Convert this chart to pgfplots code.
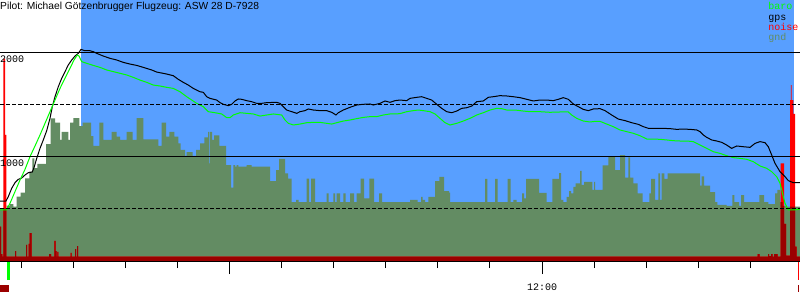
\documentclass[border=0pt]{standalone}
\usepackage{fontspec}
\setmainfont{Liberation Sans}
\newfontfamily\monofont{Liberation Mono}
\usepackage{pgfplots}
\pgfplotsset{compat=1.18}
\definecolor{sky}{RGB}{88,159,255}
\definecolor{gndc}{RGB}{99,140,99}
\definecolor{noisedark}{RGB}{155,0,0}
\definecolor{baroc}{RGB}{0,255,0}
\definecolor{noisec}{RGB}{255,0,0}
\newcommand\lblfont{\monofont\fontsize{10}{10.25}\selectfont}
\begin{document}
\begin{tikzpicture}[x=1pt,y=1pt]
\begin{axis}[
  at={(0,0)}, anchor=south west,
  scale only axis, width=800pt, height=261pt,
  xmin=0, xmax=800, ymin=-7, ymax=2503,
  clip=false,
  axis on top,
  axis x line*=bottom, axis y line*=left,
  y axis line style={draw=none},
  x axis line style={black, line width=1pt},
  tick align=outside,
  major tick length=7pt,
  minor tick length=0pt,
  xtick={21.3,73.4,125.4,177.5,281.7,333.7,385.8,437.9,489.9,594.1,646.1,698.2,750.3},
  xticklabels={},
  extra x ticks={229.6,542.0},
  extra x tick labels={,12:00},
  extra x tick style={major tick length=13pt, xticklabel style={anchor=base, inner sep=0pt, yshift=-16pt}},
  xtick style={black, line width=1pt},
  xticklabel style={font=\lblfont},
  ytick={1000,2000},
  yticklabels={1000,2000},
  minor ytick={500,1500},
  ymajorgrids, yminorgrids,
  major grid style={black, line width=1pt},
  minor grid style={black, line width=1pt, dash pattern=on 4pt off 2pt},
  ytick style={draw=none},
  yticklabel style={font=\lblfont, anchor=base west, inner sep=0pt, xshift=7pt, yshift=-10.3pt},
  legend style={draw=none, fill=none, at={(0.96,0.98927)}, anchor=north west,
    inner sep=0pt, outer sep=0pt, font=\lblfont, row sep=0pt, column sep=0pt,
    nodes={inner sep=0pt, text height=7.2pt, text depth=3.05pt}},
  legend cell align=left,
  legend image code/.code={\path (0pt,0pt) rectangle (0pt,0pt);},
]
% sky (gliding phase)
\addplot[forget plot, fill=sky, draw=none] coordinates {(81,-7) (81,2503) (794,2503) (794,-7)};
% ground
\addplot[forget plot, const plot mark left, fill=gndc, draw=none] coordinates {
(0,-7) (0,500) (6.7,525) (10,541) (13.3,515) (16.7,611) (20.7,650) (25,788) (29.3,852) (32.3,981)
(34.3,885) (37.3,926) (46,1118) (50.7,1365) (55,1323) (60,1157) (61.7,1234) (68.3,1157) (70,1323)
(73.3,1368) (79.3,1291) (82.7,1323) (91,1195) (93.3,1099) (99.3,1323) (103.3,1157) (111.7,1234)
(116.7,1189) (120,1157) (126.7,1234) (132.7,1157) (136.7,1368) (143.3,1163) (158.3,1099) (161.7,1323)
(166,1189) (169.3,1234) (174.3,1189) (178.3,1125) (180.7,1061) (185,1003) (186.7,1041) (192.7,1003)
(196,1061) (200,1125) (204.3,1183) (208,1234) (209.3,933) (210,1234) (212,1157) (214,1202) (219.3,1099)
(226,916) (231,698) (233.3,916) (235,900) (236.7,916) (238.3,900) (246.7,916) (251.7,900) (270,762)
(276,868) (279,974) (285,836) (288,785) (291.7,560) (296,580) (298.7,560) (306.7,785) (309,560)
(311,785) (315,560) (326.7,644) (328.7,560) (333.3,644) (335,560) (336.7,644) (340,560) (343.3,644)
(345.7,560) (350,644) (354,560) (356.7,644) (360.7,785) (364,596) (369.3,785) (374,560) (379,644)
(382,560) (410,580) (417.7,560) (421,609) (422.7,580) (425,560) (428.3,609) (435,762) (439.3,801)
(444,666) (449,650) (450,560) (485,782) (487.3,560) (495,782) (497.7,560) (507.7,782) (510.7,560)
(513.3,580) (516.7,560) (522,644) (524,596) (526,782) (539,647) (546.7,560) (552.3,782) (559,839)
(561,580) (563.3,560) (566.7,609) (569,666) (571,644) (573.3,705) (575.7,740) (580,859) (581.7,724)
(584,753) (592.3,676) (594,753) (595,676) (602.7,913) (608.3,996) (615,868) (620,1012) (625,794)
(628.3,990) (630,794) (633.3,740) (637.7,644) (642.7,560) (649.3,644) (651,782) (655,580) (658.3,836)
(660,580) (661.7,836) (664.3,782) (667.7,836) (700,717) (701.7,808) (704,717) (710,655) (715,560)
(717.3,532) (726.7,522) (732.3,627) (734.3,560) (739,522) (741,627) (744,560) (759.3,627) (764,560)
(768.3,541) (775,644) (777.3,676) (780,560) (782.7,522) (786.7,515) (800,515) (800,-7)};
% noise (full)
\addplot[forget plot, const plot mark left, fill=noisec, draw=none] coordinates {
(0,-7) (0,323) (1,60) (2.3,35) (3.3,1940) (5,1205) (6.3,35) (15,89) (16,35) (26,147) (27,35)
(28.7,157) (29.7,262) (31.7,35) (49,60) (51,35) (54.3,186) (55.7,89) (56.7,35) (57.3,80) (58.3,35)
(70.7,70) (71.7,35) (75,108) (76,35) (77,137) (78,35) (757.6,60) (759.6,35) (768,60) (769,40)
(771,60) (772.5,35) (774,60) (777.5,35) (780.7,933) (784,350) (786,45) (790,1541) (790.8,1685)
(791.5,1541) (793.3,1407) (795,131) (796.7,35) (800,35) (800,-7)};
% noise below ground level
\addplot[forget plot, const plot mark left, fill=noisedark, draw=none] coordinates {
(0,-7) (0,323) (1,60) (2.3,35) (3.3,500) (5,500) (6.3,35) (15,89) (16,35) (26,147) (27,35)
(28.7,157) (29.7,262) (31.7,35) (49,60) (51,35) (54.3,186) (55.7,89) (56.7,35) (57.3,80) (58.3,35)
(70.7,70) (71.7,35) (75,108) (76,35) (77,137) (78,35) (757.6,60) (759.6,35) (768,60) (769,40)
(771,60) (772.5,35) (774,60) (777.5,35) (780.7,560) (782.7,522) (784,350) (786,45) (790,515)
(795,131) (796.7,35) (800,35) (800,-7)};
% gps
\addplot[forget plot, black, line width=1pt] coordinates {
(0,570) (6,570) (8.3,612) (11.7,692) (15,746) (18.3,778) (21.7,791) (25,820) (28.3,842) (32.3,849)
(34.3,900) (36.7,980) (40,1076) (43.3,1157) (46.7,1246) (50,1365) (52.3,1477) (55,1573) (58.3,1669)
(61.7,1750) (65,1814) (68.3,1878) (71.7,1926) (75,1964) (78.3,1990) (81,2028) (85,2015) (90,2015)
(93.3,2006) (96.7,1990) (103.3,1964) (110,1942) (116.7,1926) (123.3,1903) (130,1887) (136.7,1874)
(143.3,1855) (151.7,1830) (156.7,1810) (166.7,1791) (173.3,1775) (178.3,1740) (183.3,1711)
(188.3,1685) (193.3,1653) (200,1621) (203.3,1615) (206.7,1573) (210,1557) (216.7,1541) (220,1516)
(223.3,1500) (228.3,1487) (231.7,1500) (235,1532) (238.3,1551) (241.7,1548) (246.7,1535) (251.7,1525)
(256.7,1509) (261.7,1509) (266.7,1516) (276.7,1519) (280,1509) (283.3,1477) (286.7,1445) (291.7,1429)
(296.7,1413) (300,1429) (305,1439) (308.3,1455) (313.3,1445) (320,1439) (326.7,1439) (331.7,1423)
(336,1397) (338.3,1419) (343.3,1445) (350,1471) (356.7,1493) (363.3,1500) (370,1503) (373.3,1493)
(380,1509) (385,1532) (390,1519) (395,1535) (400,1541) (406.7,1535) (410,1557) (416.7,1567)
(421.7,1573) (426.7,1557) (431.7,1541) (436.7,1500) (441.7,1461) (446.7,1429) (451.7,1419)
(456.7,1435) (461.7,1461) (466.7,1467) (471.7,1483) (476.7,1525) (483.3,1532) (488.3,1567)
(493.3,1573) (500,1583) (506.7,1580) (513.3,1573) (520,1564) (526.7,1548) (533.3,1532) (540,1541)
(546.7,1541) (553.3,1535) (558.3,1548) (563.3,1564) (568.3,1548) (573.3,1503) (578.3,1477)
(583.3,1451) (588.3,1439) (593.3,1455) (600,1458) (605,1439) (611.7,1397) (618.3,1358) (625,1343)
(631.7,1323) (638.3,1307) (643.3,1285) (648.3,1269) (655,1269) (661.7,1269) (670,1266) (676.7,1259)
(683.3,1262) (690,1259) (696.7,1253) (700,1237) (703.3,1205) (706.7,1182) (711.7,1157) (716.7,1147)
(721.7,1134) (726.7,1108) (731.7,1076) (736.7,1099) (743.3,1092) (750,1086) (755,1124) (760,1141)
(765,1131) (768.3,1092) (771.7,1012) (775,932) (780,852) (785,804) (788.3,766) (793.3,746) (800,746)};
% baro
\addplot[forget plot, baroc, line width=1pt] coordinates {
(0,484) (6.7,484) (10,548) (15,660) (20,772) (25,874) (30,996) (35,1099) (40,1205) (45,1317)
(50,1429) (55,1541) (60,1653) (65,1750) (70,1846) (74,1926) (77.3,1974) (79,1964) (81.7,1910)
(86.7,1894) (93.3,1874) (100,1855) (106.7,1830) (113.3,1814) (120,1798) (126.7,1782) (133.3,1759)
(140,1733) (146.7,1711) (153.3,1685) (160,1676) (166.7,1663) (173.3,1653) (180,1621) (186.7,1573)
(191.7,1541) (196.7,1509) (200,1493) (203.3,1477) (208.3,1429) (215,1419) (221.7,1407) (226.7,1371)
(230,1371) (233.3,1397) (240,1419) (246.7,1413) (253.3,1407) (260,1387) (266.7,1397) (273.3,1407)
(281.7,1397) (285,1349) (288.3,1317) (293.3,1301) (300,1310) (306.7,1323) (313.3,1326) (320,1326)
(326.7,1317) (331.7,1310) (336.7,1323) (343.3,1339) (350,1349) (356.7,1362) (363.3,1374) (370,1381)
(376.7,1381) (383.3,1397) (390,1407) (395,1407) (400,1410) (406.7,1429) (413.3,1439) (418.3,1445)
(423.3,1439) (430,1429) (435,1407) (440,1365) (445,1323) (450,1301) (456.7,1317) (463.3,1339)
(470,1365) (476.7,1397) (483.3,1419) (490,1445) (496.7,1461) (501.7,1458) (506.7,1445) (515,1445)
(523.3,1435) (530,1429) (540,1429) (550,1423) (560,1426) (568.3,1426) (571.7,1397) (576.7,1365)
(583.3,1339) (590,1330) (595,1336) (600,1336) (606.7,1310) (613.3,1285) (620,1253) (626.7,1237)
(633.3,1221) (640,1198) (646.7,1166) (653.3,1166) (660,1163) (666.7,1157) (673.3,1150) (680,1147)
(686.7,1147) (693.3,1141) (700,1108) (706.7,1076) (713.3,1044) (720,1028) (726.7,1006) (733.3,987)
(740,980) (746.7,971) (753.3,948) (760,907) (766.7,884) (771.7,852) (776.7,804) (780,740)
(781.7,676) (783.3,612) (785,548) (788.3,484) (793.3,484) (800,490)};
% takeoff / landing markers below the axis
\addplot[forget plot, fill=baroc, draw=none] coordinates {(7,-7) (7,-189) (9.5,-189) (9.5,-7)};
\addplot[forget plot, fill=noisedark, draw=none] coordinates {(0,-238) (0,-305) (9,-305) (9,-238)};
\addplot[forget plot, fill=noisec, draw=none] coordinates {(797.5,-7) (797.5,-189) (798.5,-189) (798.5,-7)};
\addplot[forget plot, fill=noisedark, draw=none] coordinates {(797.5,-238) (797.5,-305) (798.5,-305) (798.5,-238)};
% legend
\addlegendimage{black}\addlegendentry{\textcolor{baroc}{baro}}
\addlegendimage{black}\addlegendentry{\textcolor{black}{gps}}
\addlegendimage{black}\addlegendentry{\textcolor{noisec}{noise}}
\addlegendimage{black}\addlegendentry{\textcolor{gndc}{gnd}}
\end{axis}
\node[anchor=base west, inner sep=0pt, font=\fontsize{10.25}{12}\selectfont] at (0,251) {Pilot: Michael Götzenbrugger Flugzeug: ASW 28 D-7928};
\pgfresetboundingbox
\path[use as bounding box] (0,-39) rectangle (800,261);
\end{tikzpicture}
\end{document}
